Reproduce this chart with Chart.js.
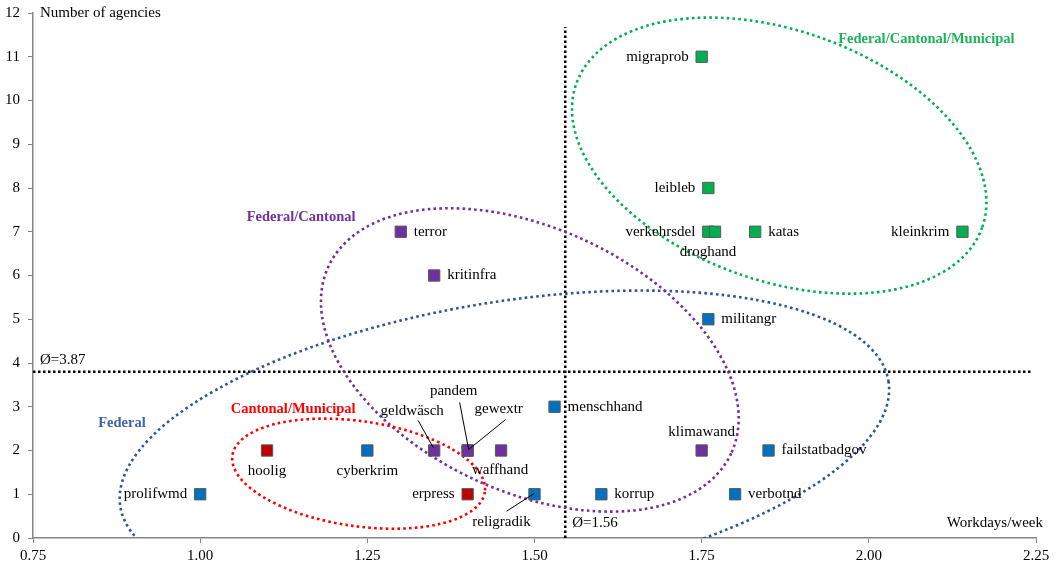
<!DOCTYPE html>
<html>
<head>
<meta charset="utf-8">
<script src="https://cdn.jsdelivr.net/npm/chart.js@4"></script>
<style>
  body { margin: 0; background: #fff; }
  #wrap { width: 1056px; height: 565px; position: relative; }
</style>
</head>
<body>
<div id="wrap"><canvas id="chart"></canvas></div>
<script>
// topics, workdays per week, number of agencies, agency level
const names = ["prolifwmd", "hoolig", "cyberkrim", "geldwäsch", "pandem", "gewextr", "waffhand", "erpress",
  "religradik", "menschhand", "korrup", "klimawand", "failstatbadgov", "verbotnd", "militangr", "terror",
  "kritinfra", "migraprob", "leibleb", "verkehrsdel", "droghand", "katas", "kleinkrim"];
const workdays = [1.00, 1.10, 1.25, 1.35, 1.40, 1.40, 1.45, 1.40,
  1.50, 1.53, 1.60, 1.75, 1.85, 1.80, 1.76, 1.30,
  1.35, 1.75, 1.76, 1.76, 1.77, 1.83, 2.14];
const agencies = [1, 2, 2, 2, 2, 2, 2, 1,
  1, 3, 1, 2, 2, 1, 5, 7,
  6, 11, 8, 7, 7, 7, 7];
const levels = ["F", "CM", "F", "FC", "FC", "FC", "FC", "CM",
  "F", "F", "F", "FC", "F", "F", "F", "FC",
  "FC", "FCM", "FCM", "FCM", "FCM", "FCM", "FCM"];

const xTicks = [0.75, 1.00, 1.25, 1.50, 1.75, 2.00, 2.25];
const yTicks = [0, 1, 2, 3, 4, 5, 6, 7, 8, 9, 10, 11, 12];
const avgWorkdays = 1.546, avgWorkdaysText = "Ø=1.56";
const avgAgencies = 3.8, avgAgenciesText = "Ø=3.87";

const SERIF = "'Liberation Serif', 'Times New Roman', serif";
const levelColor = { F: "#0070C0", CM: "#C00000", FC: "#7030A0", FCM: "#00B050" };

// label placement per topic (pixels relative to the marker)
const R = { dx: 13, dy: 0, align: "left" }, L = { dx: -13, dy: 0, align: "right" };
const B = { dx: 0, dy: 21, align: "center" }, A = { dx: 0, dy: -18, align: "center" };
const labelPos = {
  prolifwmd: L, hoolig: B, cyberkrim: B, erpress: L, menschhand: R, korrup: R, klimawand: A,
  failstatbadgov: R, verbotnd: R, militangr: R, terror: R, kritinfra: R, migraprob: L, leibleb: L,
  verkehrsdel: L, katas: R, kleinkrim: L,
  droghand: { dx: -7, dy: 20, align: "center" },
  waffhand: { dx: -1, dy: 20, align: "center" },
  "geldwäsch": { dx: -22, dy: -39, align: "center", lead: [-16, -30, -1, -3] },
  pandem: { dx: -14, dy: -59, align: "center", lead: [-8, -48, 1, -1] },
  gewextr: { dx: 31, dy: -41, align: "center", lead: [38, -31, 1, -1] },
  religradik: { dx: -33, dy: 28, align: "center", lead: [-28, 17, 0, -1] }
};

// group outlines (centre in data units, semi-axes in workday units, rotation in degrees)
const groupShapes = [
  { name: "Federal", color: "#2F5597", text: "#3F63A8", cx: 1.455, cy: 2.15, a: 0.582, b: 0.212, rot: -9.3, lx: 0.883, ly: 2.63 },
  { name: "Federal/Cantonal", color: "#7030A0", text: "#7030A0", cx: 1.493, cy: 4.07, a: 0.332, b: 0.197, rot: 24.9, lx: 1.151, ly: 7.34 },
  { name: "Cantonal/Municipal", color: "#FF0000", text: "#FF0000", cx: 1.237, cy: 1.47, a: 0.1907, b: 0.0785, rot: 8.2, lx: 1.139, ly: 2.95 },
  { name: "Federal/Cantonal/Municipal", color: "#00B050", text: "#1DB35A", cx: 1.866, cy: 8.74, a: 0.322, b: 0.187, rot: 19.5, lx: 2.086, ly: 11.4 }
];

const levelOrder = ["F", "FC", "CM", "FCM"];
const datasets = levelOrder.map(lv => {
  const idx = names.map((n, i) => i).filter(i => levels[i] === lv);
  return {
    label: lv,
    data: idx.map(i => ({ x: workdays[i], y: agencies[i], name: names[i] })),
    pointStyle: "rect",
    pointRadius: 8,
    pointHoverRadius: 8,
    backgroundColor: levelColor[lv],
    borderColor: "#595959",
    borderWidth: 1
  };
});

const overlay = {
  id: "overlay",
  beforeDatasetsDraw(chart) {
    const { ctx, chartArea: ca, scales: { x, y } } = chart;
    ctx.save();
    ctx.beginPath();
    ctx.rect(ca.left, ca.top - 20, ca.right - ca.left + 10, ca.bottom - ca.top + 20);
    ctx.clip();
    // average lines
    ctx.strokeStyle = "#000";
    ctx.lineWidth = 2.5;
    ctx.setLineDash([2.5, 2.5]);
    ctx.beginPath();
    ctx.moveTo(x.getPixelForValue(avgWorkdays), y.getPixelForValue(0));
    ctx.lineTo(x.getPixelForValue(avgWorkdays), y.getPixelForValue(11.68));
    ctx.moveTo(x.getPixelForValue(0.75), y.getPixelForValue(avgAgencies));
    ctx.lineTo(x.getPixelForValue(2.245), y.getPixelForValue(avgAgencies));
    ctx.stroke();
    // group outlines
    ctx.lineWidth = 2.6;
    ctx.setLineDash([2.6, 3.2]);
    groupShapes.forEach(g => {
      const px = x.getPixelForValue(g.cx), py = y.getPixelForValue(g.cy);
      const ra = x.getPixelForValue(g.cx + g.a) - px;
      const rb = x.getPixelForValue(g.cx + g.b) - px;
      ctx.strokeStyle = g.color;
      ctx.beginPath();
      ctx.ellipse(px, py, ra, rb, g.rot * Math.PI / 180, 0, Math.PI * 2);
      ctx.stroke();
    });
    ctx.restore();
  },
  afterDatasetsDraw(chart) {
    const { ctx, chartArea: ca, scales: { x, y } } = chart;
    ctx.save();
    ctx.textBaseline = "middle";
    // point labels
    ctx.font = "15px " + SERIF;
    ctx.fillStyle = "#000";
    ctx.strokeStyle = "#000";
    ctx.lineWidth = 1;
    chart.data.datasets.forEach((ds, di) => {
      const meta = chart.getDatasetMeta(di);
      ds.data.forEach((p, j) => {
        const el = meta.data[j];
        const pos = labelPos[p.name] || R;
        ctx.textAlign = pos.align;
        ctx.fillText(p.name, el.x + pos.dx, el.y + pos.dy);
        if (pos.lead) {
          ctx.beginPath();
          ctx.moveTo(el.x + pos.lead[0], el.y + pos.lead[1]);
          ctx.lineTo(el.x + pos.lead[2], el.y + pos.lead[3]);
          ctx.stroke();
        }
      });
    });
    // group names
    ctx.font = "bold 14.5px " + SERIF;
    ctx.textAlign = "center";
    groupShapes.forEach(g => {
      ctx.fillStyle = g.text;
      ctx.fillText(g.name, x.getPixelForValue(g.lx), y.getPixelForValue(g.ly));
    });
    // axis titles and averages
    ctx.font = "15px " + SERIF;
    ctx.fillStyle = "#000";
    ctx.textAlign = "left";
    ctx.fillText("Number of agencies", ca.left + 7, ca.top);
    ctx.fillText(avgAgenciesText, ca.left + 7, y.getPixelForValue(avgAgencies) - 12);
    ctx.fillText(avgWorkdaysText, x.getPixelForValue(avgWorkdays) + 7, ca.bottom - 15);
    ctx.textAlign = "right";
    ctx.fillText("Workdays/week", ca.right + 7, ca.bottom - 15);
    ctx.restore();
  }
};

new Chart(document.getElementById("chart"), {
  type: "scatter",
  data: { datasets },
  options: {
    responsive: true,
    maintainAspectRatio: false,
    animation: false,
    layout: { padding: { top: 13, right: 20, left: 0, bottom: 0 } },
    plugins: {
      legend: { display: false },
      tooltip: { enabled: false }
    },
    scales: {
      x: {
        type: "linear",
        min: xTicks[0],
        max: xTicks[xTicks.length - 1],
        afterBuildTicks: s => { s.ticks = xTicks.map(v => ({ value: v })); },
        afterFit: s => { s.height = 27; },
        ticks: {
          callback: v => v.toFixed(2),
          color: "#000",
          padding: 4,
          font: { family: SERIF, size: 15 }
        },
        grid: { drawOnChartArea: false, tickLength: 5, color: "#868686" },
        border: { color: "#868686", width: 1.5 }
      },
      y: {
        min: yTicks[0],
        max: yTicks[yTicks.length - 1],
        afterBuildTicks: s => { s.ticks = yTicks.map(v => ({ value: v })); },
        afterFit: s => { s.width = 33; s.paddingTop = 0; s.paddingBottom = 0; },
        ticks: {
          color: "#000",
          padding: 8,
          font: { family: SERIF, size: 15 }
        },
        grid: { drawOnChartArea: false, tickLength: 5, color: "#868686" },
        border: { color: "#868686", width: 1.5 }
      }
    }
  },
  plugins: [overlay]
});
</script>
</body>
</html>
